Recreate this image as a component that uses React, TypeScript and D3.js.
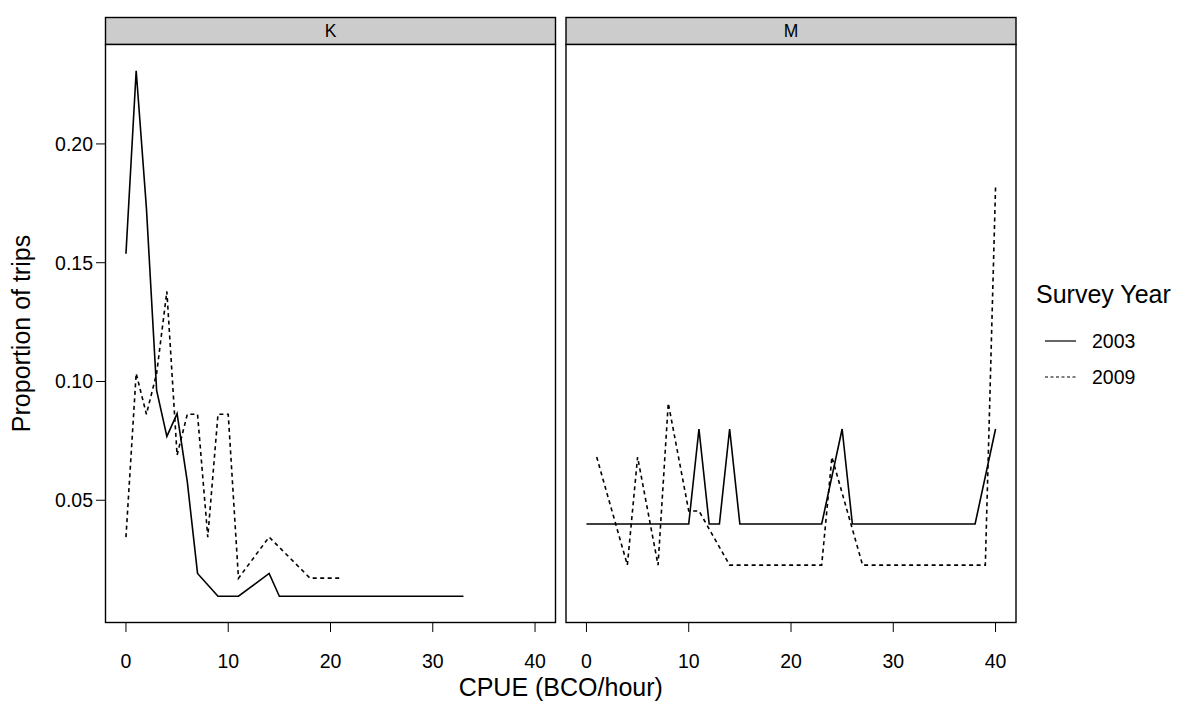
import React from "react";
import * as d3 from "d3";

// ---- Data ----
const panels = ["K", "M"];
const years = ["2003", "2009"];

const kX2003 = [0, 1, 2, 3, 4, 5, 6, 7, 9, 11, 14, 15, 33];
const kY2003 = [0.1538, 0.2308, 0.1731, 0.0962, 0.0769, 0.0865, 0.0577, 0.0192, 0.0096, 0.0096, 0.0192, 0.0096, 0.0096];

const kX2009 = [0, 1, 2, 3, 4, 5, 6, 7, 8, 9, 10, 11, 14, 18, 21];
const kY2009 = [0.0345, 0.1034, 0.0862, 0.1034, 0.1379, 0.069, 0.0862, 0.0862, 0.0345, 0.0862, 0.0862, 0.0172, 0.0345, 0.0172, 0.0172];

const mX2003 = [0, 10, 11, 12, 13, 14, 15, 23, 25, 26, 38, 40];
const mY2003 = [0.04, 0.04, 0.08, 0.04, 0.04, 0.08, 0.04, 0.04, 0.08, 0.04, 0.04, 0.08];

const mX2009 = [1, 4, 5, 7, 8, 10, 11, 14, 23, 24, 27, 39, 40];
const mY2009 = [0.0682, 0.0227, 0.0682, 0.0227, 0.0909, 0.0455, 0.0455, 0.0227, 0.0227, 0.0682, 0.0227, 0.0227, 0.1818];

const xTicks = [0, 10, 20, 30, 40];
const yTicks = [0.05, 0.1, 0.15, 0.2];

const W = 1195;
const H = 704;
const FONT = "'Liberation Sans', Arial, Helvetica, sans-serif";

type Series = { year: string; xs: number[]; ys: number[] };

const panelData: Record<string, Series[]> = {
  K: [
    { year: "2003", xs: kX2003, ys: kY2003 },
    { year: "2009", xs: kX2009, ys: kY2009 },
  ],
  M: [
    { year: "2003", xs: mX2003, ys: mY2003 },
    { year: "2009", xs: mX2009, ys: mY2009 },
  ],
};

const dashFor: Record<string, string | undefined> = { "2003": undefined, "2009": "4,3.5" };

export default function App() {
  const panelLeft = [105.5, 566];
  const panelWidth = 450;
  const stripTop = 17.5;
  const panelTop = 44.5;
  const panelBottom = 622.5;

  const allY = [...kY2003, ...kY2009, ...mY2003, ...mY2009];
  const yMin = d3.min(allY) as number;
  const yMax = d3.max(allY) as number;
  const yPad = (yMax - yMin) * 0.05;
  const y = d3.scaleLinear().domain([yMin - yPad, yMax + yPad]).range([panelBottom, panelTop]);

  const lw = 1.6;

  return (
    <svg width={W} height={H} style={{ display: "block", position: "absolute", left: 0, top: 0, background: "#fff" }} fontFamily={FONT}>
      <rect x={0} y={0} width={W} height={H} fill="#fff" />
      {panels.map((p, i) => {
        const x0 = panelLeft[i];
        const x = d3.scaleLinear().domain([-2, 42]).range([x0, x0 + panelWidth]);
        const line = d3
          .line<[number, number]>()
          .x((d) => x(d[0]))
          .y((d) => y(d[1]));
        return (
          <g key={p}>
            {/* strip */}
            <rect x={x0} y={stripTop} width={panelWidth} height={panelTop - stripTop} fill="#cccccc" stroke="#000" strokeWidth={1.4} />
            <text x={x0 + panelWidth / 2} y={37} textAnchor="middle" fontSize={17.5} fill="#000">
              {p}
            </text>
            {/* panel */}
            <rect x={x0} y={panelTop} width={panelWidth} height={panelBottom - panelTop} fill="#fff" stroke="#000" strokeWidth={1.4} />
            {panelData[p].map((s) => (
              <path
                key={s.year}
                d={line(s.xs.map((v, j) => [v, s.ys[j]] as [number, number])) || ""}
                fill="none"
                stroke="#000"
                strokeWidth={lw}
                strokeDasharray={dashFor[s.year]}
                strokeLinejoin="miter"
              />
            ))}
            {/* x axis */}
            {xTicks.map((t) => (
              <g key={t}>
                <line x1={x(t)} x2={x(t)} y1={panelBottom} y2={panelBottom + 9.5} stroke="#000" strokeWidth={1} />
                <text x={x(t)} y={668} textAnchor="middle" fontSize={19.5} fill="#000">
                  {t}
                </text>
              </g>
            ))}
          </g>
        );
      })}
      {/* y axis */}
      {yTicks.map((t) => (
        <g key={t}>
          <line x1={panelLeft[0] - 9.5} x2={panelLeft[0]} y1={y(t)} y2={y(t)} stroke="#000" strokeWidth={1} />
          <text x={93} y={y(t) + 7} textAnchor="end" fontSize={19.5} fill="#000">
            {d3.format(".2f")(t)}
          </text>
        </g>
      ))}
      <text
        transform={`translate(30, ${(panelTop + panelBottom) / 2}) rotate(-90)`}
        textAnchor="middle"
        fontSize={25}
        fill="#000"
      >
        Proportion of trips
      </text>
      <text x={(panelLeft[0] + panelLeft[1] + panelWidth) / 2} y={696} textAnchor="middle" fontSize={25} fill="#000">
        CPUE (BCO/hour)
      </text>
      {/* legend */}
      <text x={1036} y={303} fontSize={25} fill="#000">
        Survey Year
      </text>
      {years.map((yr, i) => (
        <g key={yr}>
          <line x1={1045} x2={1076} y1={341 + i * 36} y2={341 + i * 36} stroke="#000" strokeWidth={1.2} strokeDasharray={dashFor[yr] ? "3,2.5" : undefined} />
          <text x={1092} y={341 + i * 36 + 7} fontSize={19.5} fill="#000">
            {yr}
          </text>
        </g>
      ))}
    </svg>
  );
}
